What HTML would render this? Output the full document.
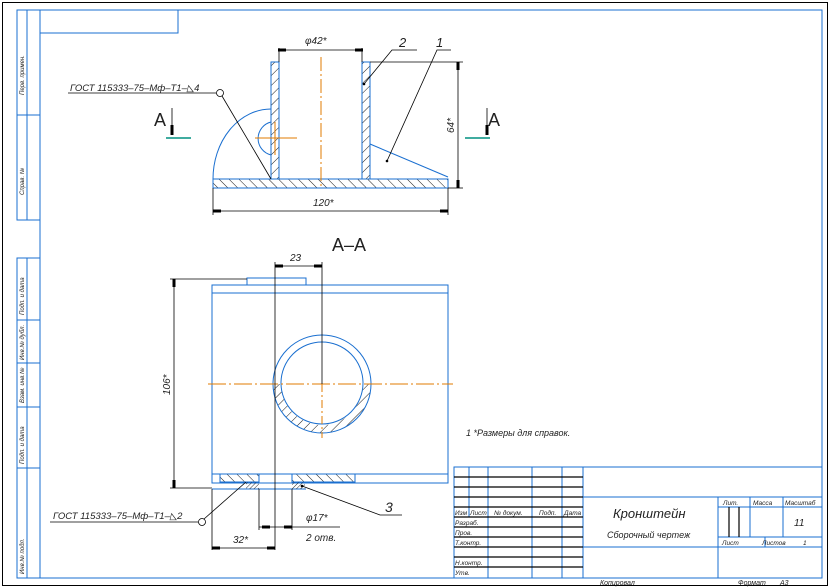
<!DOCTYPE html>
<html><head><meta charset="utf-8"><style>
html,body{margin:0;padding:0;background:#fff}
svg{display:block}
text{font-family:"Liberation Sans",sans-serif;font-style:italic;fill:#222}
</style></head><body>
<svg width="830" height="588" viewBox="0 0 830 588" xmlns="http://www.w3.org/2000/svg">
<defs>
<pattern id="hf" patternUnits="userSpaceOnUse" width="7" height="7" patternTransform="rotate(45)"><line x1="0" y1="0" x2="0" y2="7" stroke="#000" stroke-width="0.9"/></pattern>
<pattern id="hb" patternUnits="userSpaceOnUse" width="7" height="7" patternTransform="rotate(-45)"><line x1="0" y1="0" x2="0" y2="7" stroke="#000" stroke-width="0.9"/></pattern>
<pattern id="hs" patternUnits="userSpaceOnUse" width="3" height="3" patternTransform="rotate(45)"><line x1="0" y1="0" x2="0" y2="3" stroke="#000" stroke-width="0.8"/></pattern>
</defs>
<rect x="2.5" y="2.5" width="825" height="583" fill="none" stroke="#000" stroke-width="1"/>
<g fill="none" stroke="#1a6fd0" stroke-width="1">
<rect x="40" y="10" width="782" height="568"/>
<rect x="40" y="10" width="138" height="23"/>
<rect x="17" y="10" width="23" height="210"/><line x1="27" y1="10" x2="27" y2="220"/><line x1="17" y1="115" x2="40" y2="115"/>
<rect x="17" y="258" width="23" height="320"/><line x1="27" y1="258" x2="27" y2="578"/>
<line x1="17" y1="320" x2="40" y2="320"/><line x1="17" y1="363" x2="40" y2="363"/><line x1="17" y1="407" x2="40" y2="407"/><line x1="17" y1="468" x2="40" y2="468"/>
</g>
<g font-size="6">
<text transform="translate(24,95) rotate(-90)">Перв. примен.</text>
<text transform="translate(24,195) rotate(-90)">Справ. №</text>
<text transform="translate(24,315) rotate(-90)">Подп. и дата</text>
<text transform="translate(24,360) rotate(-90)">Инв.№ дубл.</text>
<text transform="translate(24,403) rotate(-90)">Взам. инв.№</text>
<text transform="translate(24,464) rotate(-90)">Подп. и дата</text>
<text transform="translate(24,574) rotate(-90)">Инв.№ подл.</text>
</g>
<!-- TOP VIEW -->
<g fill="none" stroke="#1a6fd0" stroke-width="1">
<path d="M213 179 A58 70 0 0 1 271 109"/>
<path d="M271 122 A17 17 0 0 0 271 155"/>
</g>
<rect x="271" y="62" width="8" height="117" fill="url(#hf)"/>
<rect x="362" y="62" width="8" height="117" fill="url(#hf)"/>
<rect x="213" y="179" width="235" height="9" fill="url(#hb)"/>
<g fill="none" stroke="#1a6fd0" stroke-width="1">
<rect x="271" y="62" width="8" height="117"/><rect x="362" y="62" width="8" height="117"/>
<rect x="213" y="179" width="235" height="9"/>
<path d="M370 144 L448 177"/>
</g>
<g stroke="#e07b00" stroke-width="1" fill="none">
<line x1="321" y1="57" x2="321" y2="186" stroke-dasharray="14,3,2,3"/>
<line x1="255" y1="138" x2="297" y2="138"/><line x1="275" y1="122" x2="275" y2="155"/>
</g>
<g stroke="#000" stroke-width="0.8" fill="none">
<line x1="279" y1="48" x2="279" y2="62"/><line x1="362" y1="48" x2="362" y2="62"/><line x1="279" y1="50" x2="362" y2="50"/>
<line x1="370" y1="62" x2="463" y2="62"/><line x1="448" y1="188" x2="463" y2="188"/><line x1="458" y1="62" x2="458" y2="188"/>
<line x1="213" y1="188" x2="213" y2="215"/><line x1="448" y1="188" x2="448" y2="215"/><line x1="213" y1="211" x2="448" y2="211"/>
<polyline points="364,84 392,50 417,50"/><polyline points="387,161 437,50 451,50"/>
<line x1="68" y1="93" x2="216" y2="93"/><circle cx="220" cy="93" r="3.5"/><line x1="222" y1="96" x2="271" y2="179"/>
<line x1="172" y1="108" x2="172" y2="134"/><line x1="487" y1="108" x2="487" y2="134"/>
</g>
<g fill="#000"><rect x="278" y="48.5" width="8" height="3"/><rect x="355" y="48.5" width="8" height="3"/>
<rect x="456.5" y="62" width="3" height="8"/><rect x="456.5" y="180" width="3" height="8"/>
<rect x="213" y="209.5" width="8" height="3"/><rect x="440" y="209.5" width="8" height="3"/>
<rect x="170.5" y="125" width="3" height="10"/><rect x="485.5" y="125" width="3" height="10"/>
<circle cx="364" cy="84" r="1.3"/><circle cx="387" cy="161" r="1.3"/></g>
<g stroke="#009080" stroke-width="1.5"><line x1="166" y1="138" x2="191" y2="138"/><line x1="465" y1="138" x2="490" y2="138"/></g>
<text x="305" y="44" font-size="10">φ42*</text>
<text x="399" y="47" font-size="13">2</text><text x="436" y="47" font-size="13">1</text>
<text x="313" y="206" font-size="10">120*</text>
<text transform="translate(454,133) rotate(-90)" font-size="10">64*</text>
<text x="70" y="91" font-size="9.5">ГОСТ 115333–75–Мф–Т1–◺4</text>
<text x="154" y="126" font-size="18" style="font-style:normal">A</text>
<text x="488" y="126" font-size="18" style="font-style:normal">A</text>
<text x="332" y="251" font-size="18" style="font-style:normal">A–A</text>
<!-- SECTION -->
<g fill="none" stroke="#1a6fd0" stroke-width="1">
<rect x="212" y="285" width="236" height="198"/>
<line x1="212" y1="293" x2="448" y2="293"/><line x1="212" y1="474" x2="448" y2="474"/>
<polyline points="247,285 247,278 306,278 306,285"/>
<line x1="212" y1="489" x2="306" y2="489"/>
</g>
<path d="M273 384 A49 49 0 0 0 371 384 L363 384 A41 41 0 0 1 281 384 Z" fill="url(#hf)"/>
<rect x="220" y="474" width="39" height="8" fill="url(#hb)"/><rect x="292" y="474" width="63" height="8" fill="url(#hb)"/>
<rect x="246" y="482" width="13" height="7" fill="url(#hs)"/><rect x="292" y="482" width="13" height="7" fill="url(#hs)"/>
<g fill="none" stroke="#1a6fd0" stroke-width="1">
<circle cx="322" cy="384" r="49"/><circle cx="322" cy="383" r="41"/>
<rect x="220" y="474" width="39" height="8"/><rect x="292" y="474" width="63" height="8"/>
</g>
<g stroke="#e07b00" stroke-width="1" fill="none">
<line x1="208" y1="384" x2="453" y2="384" stroke-dasharray="18,3,2,3"/>
<line x1="322" y1="384" x2="322" y2="438" stroke-dasharray="8,3,2,3"/>
</g>
<g stroke="#000" stroke-width="0.8" fill="none">
<line x1="275" y1="262" x2="275" y2="550"/><line x1="322" y1="262" x2="322" y2="384"/><line x1="275" y1="266" x2="322" y2="266"/>
<line x1="170" y1="279" x2="247" y2="279"/><line x1="170" y1="488" x2="212" y2="488"/><line x1="174" y1="279" x2="174" y2="488"/>
<line x1="212" y1="489" x2="212" y2="550"/><line x1="212" y1="548" x2="275" y2="548"/>
<line x1="259" y1="489" x2="259" y2="530"/><line x1="292" y1="489" x2="292" y2="530"/><line x1="259" y1="527" x2="340" y2="527"/>
<polyline points="302,486 380,515 402,515"/>
<line x1="50" y1="522" x2="198" y2="522"/><circle cx="202" cy="522" r="3.5"/><line x1="204" y1="519" x2="246" y2="482"/>
</g>
<g fill="#000"><rect x="275" y="264.5" width="8" height="3"/><rect x="314" y="264.5" width="8" height="3"/>
<rect x="172.5" y="279" width="3" height="8" /><rect x="172.5" y="480" width="3" height="8"/>
<rect x="212" y="546.5" width="8" height="3"/><rect x="267" y="546.5" width="8" height="3"/>
<rect x="262" y="525.5" width="8" height="3"/><rect x="284" y="525.5" width="8" height="3"/><circle cx="302" cy="486" r="1.3"/></g>
<text x="290" y="261" font-size="10">23</text>
<text transform="translate(170,395) rotate(-90)" font-size="10">106*</text>
<text x="306" y="521" font-size="10">φ17*</text><text x="306" y="541" font-size="10">2 отв.</text>
<text x="233" y="543" font-size="10">32*</text>
<text x="385" y="512" font-size="14">3</text>
<text x="53" y="519" font-size="9.5">ГОСТ 115333–75–Мф–Т1–◺2</text>
<text x="466" y="436" font-size="9">1  *Размеры для справок.</text>
<!-- TITLE BLOCK -->
<g fill="none" stroke="#1a6fd0" stroke-width="1">
<rect x="454" y="467" width="368" height="111"/>
<line x1="469" y1="467" x2="469" y2="517"/><line x1="488" y1="467" x2="488" y2="578"/><line x1="532" y1="467" x2="532" y2="578"/><line x1="562" y1="467" x2="562" y2="578"/><line x1="583" y1="467" x2="583" y2="578"/>
<line x1="718" y1="497" x2="718" y2="578"/><line x1="750" y1="497" x2="750" y2="537"/><line x1="783" y1="497" x2="783" y2="537"/>
<line x1="729" y1="507" x2="729" y2="537"/><line x1="739" y1="507" x2="739" y2="537"/><line x1="765" y1="537" x2="765" y2="547"/>
<line x1="583" y1="497" x2="822" y2="497"/><line x1="718" y1="507" x2="822" y2="507"/><line x1="718" y1="537" x2="822" y2="537"/><line x1="583" y1="547" x2="822" y2="547"/>
</g>
<g stroke="#000" stroke-width="1.2">
<line x1="454" y1="477" x2="583" y2="477"/><line x1="454" y1="487" x2="583" y2="487"/><line x1="454" y1="497" x2="583" y2="497"/><line x1="454" y1="507" x2="583" y2="507"/><line x1="454" y1="517" x2="583" y2="517"/>
<line x1="454" y1="527" x2="583" y2="527"/><line x1="454" y1="537" x2="583" y2="537"/><line x1="454" y1="547" x2="583" y2="547"/><line x1="454" y1="557" x2="583" y2="557"/><line x1="454" y1="567" x2="583" y2="567"/>
<line x1="729" y1="507" x2="729" y2="537"/><line x1="739" y1="507" x2="739" y2="537"/>
</g>
<g font-size="6.5">
<text x="455" y="515">Изм</text><text x="470" y="515">Лист</text><text x="494" y="515">№ докум.</text><text x="539" y="515">Подп.</text><text x="564" y="515">Дата</text>
<text x="455" y="525">Разраб.</text><text x="455" y="535">Пров.</text><text x="455" y="545">Т.контр.</text><text x="455" y="565">Н.контр.</text><text x="455" y="575">Утв.</text>
<text x="723" y="505">Лит.</text><text x="753" y="505">Масса</text><text x="785" y="505">Масштаб</text>
<text x="722" y="545">Лист</text><text x="762" y="545">Листов</text><text x="803" y="545">1</text>
</g>
<text x="613" y="518" font-size="13">Кронштейн</text>
<text x="607" y="538" font-size="9">Сборочный чертеж</text>
<text x="794" y="526" font-size="10">11</text>
<text x="600" y="585" font-size="7">Копировал</text><text x="738" y="585" font-size="7">Формат</text><text x="780" y="585" font-size="7">А3</text>
</svg>
</body></html>
